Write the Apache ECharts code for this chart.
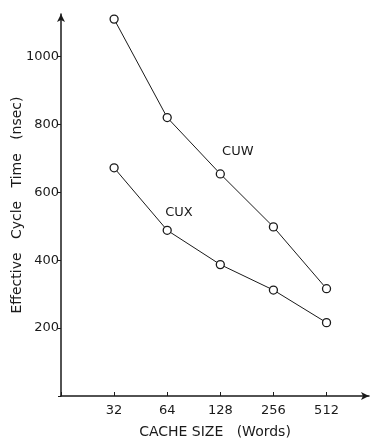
<!DOCTYPE html>
<html>
<head>
<meta charset="utf-8">
<script src="https://cdn.jsdelivr.net/npm/echarts@6/dist/echarts.min.js"></script>
<style>
html, body { margin: 0; padding: 0; background: #fff; }
#chart { width: 371px; height: 438px; }
</style>
</head>
<body>
<div id="chart"></div>
<script>
// cache size (words) and effective cycle time (nsec)
var cacheSizes = [32, 64, 128, 256, 512];
var cuwTimes = [1110, 820, 654, 498, 316];
var cuxTimes = [672, 488, 387, 312, 216];
var yTicks = [200, 400, 600, 800, 1000];

var chart = echarts.init(document.getElementById('chart'));

// x axis is drawn in log2 units, labels show the real size
function toPoints(values) {
    return cacheSizes.map(function (s, i) {
        return [Math.log2(s), values[i]];
    });
}

var ink = '#1a1a1a';
var font = 'DejaVu Sans';

var lineStyle = {
    type: 'line',
    symbol: 'circle',
    symbolSize: 8,
    lineStyle: { color: ink, width: 1 },
    itemStyle: { color: '#fff', borderColor: ink, borderWidth: 1.3 },
    animation: false
};

// series name written next to its line
function nameMark(text, coord) {
    return {
        symbol: 'circle',
        symbolSize: 1,
        itemStyle: { color: 'rgba(0,0,0,0)' },
        label: { show: true, position: 'inside', formatter: text, color: ink, fontFamily: font, fontSize: 13 },
        data: [{ coord: coord }]
    };
}

var option = {
    backgroundColor: '#fff',
    grid: { left: 61, right: 2, top: 14, bottom: 42, outerBoundsMode: 'none', containLabel: false },
    xAxis: {
        type: 'value',
        min: 4,
        max: 9.8,
        interval: 1,
        name: 'CACHE SIZE   (Words)',
        nameLocation: 'middle',
        nameGap: 29,
        nameMoveOverlap: false,
        nameTextStyle: { color: ink, fontFamily: font, fontSize: 14 },
        axisLine: { lineStyle: { color: ink, width: 1.5 }, symbol: ['none', 'arrow'], symbolSize: [6, 8] },
        axisTick: { inside: true, length: 4, lineStyle: { color: ink } },
        axisLabel: {
            color: ink, fontFamily: font, fontSize: 13, margin: 8,
            showMaxLabel: false,
            formatter: function (v) { return v >= 5 && v <= 9 ? String(Math.pow(2, v)) : ''; }
        },
        splitLine: { show: false }
    },
    yAxis: {
        type: 'value',
        min: 0,
        max: 1125,
        interval: 200,
        name: 'Effective   Cycle   Time   (nsec)',
        nameLocation: 'middle',
        nameGap: 37,
        nameMoveOverlap: false,
        nameTextStyle: { color: ink, fontFamily: font, fontSize: 14 },
        axisLine: { show: true, lineStyle: { color: ink, width: 1.5 }, symbol: ['none', 'arrow'], symbolSize: [6, 8] },
        axisTick: { show: true, length: 3, lineStyle: { color: ink } },
        axisLabel: {
            color: ink, fontFamily: font, fontSize: 13, margin: 2,
            showMaxLabel: false,
            formatter: function (v) { return yTicks.indexOf(v) >= 0 ? String(v) : ''; }
        },
        splitLine: { show: false }
    },
    series: [
        Object.assign({}, lineStyle, {
            name: 'CUW',
            data: toPoints(cuwTimes),
            markPoint: nameMark('CUW', [7.33, 720])
        }),
        Object.assign({}, lineStyle, {
            name: 'CUX',
            data: toPoints(cuxTimes),
            markPoint: nameMark('CUX', [6.22, 540])
        })
    ]
};

chart.setOption(option);
</script>
</body>
</html>
